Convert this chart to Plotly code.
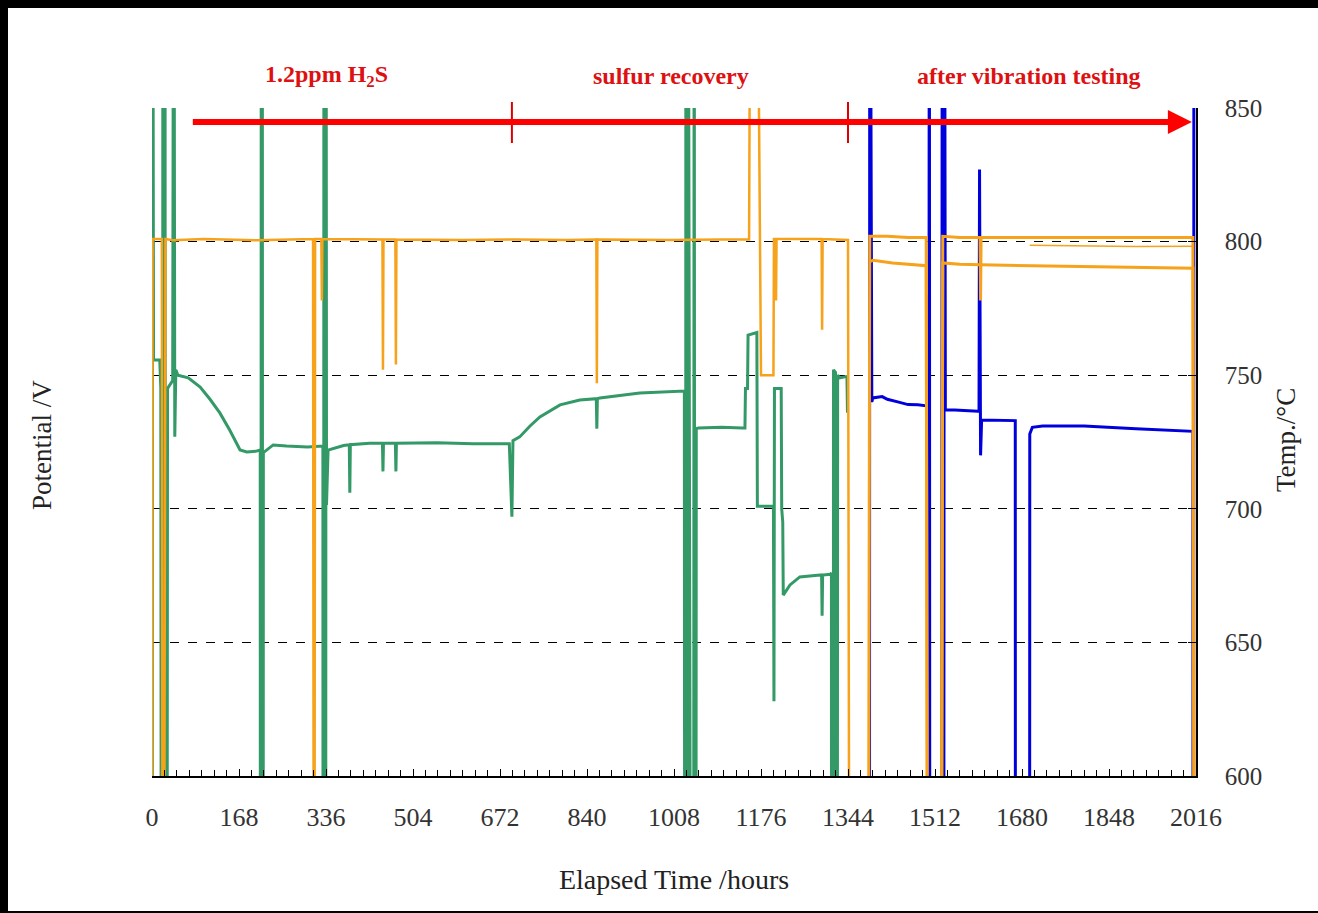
import plotly.graph_objects as go

# ---------------- data ----------------
# Cell potential, test part 1 (green), hours / V
pot1_h = [0, 1, 3, 15, 17, 20, 21, 23, 25, 27, 30, 40, 42, 44, 46, 50, 70, 93, 112, 131, 150, 170, 183, 200, 209,
          210, 211, 212, 213, 214, 215, 234, 260, 300, 330, 331, 332, 333, 334, 335, 336, 337, 340, 370, 381, 382, 383,
          420, 445, 446, 447, 470, 471, 472, 550, 620, 690, 695, 697, 710, 730, 749, 788, 826, 858, 859, 860, 865, 942,
          1019, 1028, 1030, 1031, 1033, 1035, 1045, 1047, 1049, 1051, 1055, 1100, 1140, 1145, 1146, 1150, 1151, 1168,
          1169, 1200, 1201, 1202, 1215, 1216, 1218, 1219, 1232, 1251, 1290, 1293, 1294, 1295, 1310, 1312, 1313, 1315,
          1316, 1320, 1322, 1324, 1328, 1340, 1342, 1343]
pot1_v = [0.0, 1.0, 0.7557, 0.7557, 0.745, 0.0, 1.0, 0.0, 1.0, 0.0, 0.745, 0.748, 1.0, 0.727, 0.752, 0.750, 0.749,
          0.7456, 0.741, 0.7359, 0.7295, 0.722, 0.7213, 0.7215, 0.722, 0.0, 1.0, 0.0, 1.0, 0.0, 0.721, 0.7239, 0.7235,
          0.7231, 0.7235, 0.0, 1.0, 0.0, 1.0, 0.0, 1.0, 0.7014, 0.722, 0.7237, 0.724, 0.706, 0.724, 0.7245, 0.7245,
          0.714, 0.7245, 0.7245, 0.714, 0.7245, 0.7247, 0.7243, 0.7243, 0.697, 0.7255, 0.7269, 0.731, 0.7344, 0.7389,
          0.7407, 0.7412, 0.730, 0.7412, 0.7415, 0.7433, 0.7441, 0.7441, 0.0, 1.0, 0.0, 1.0, 0.0, 1.0, 0.0, 0.730,
          0.7302, 0.7305, 0.7302, 0.7302, 0.745, 0.745, 0.765, 0.766, 0.701, 0.701, 0.628, 0.745, 0.745, 0.70, 0.695,
          0.6677, 0.6715, 0.6745, 0.6752, 0.6752, 0.66, 0.6752, 0.6755, 0.676, 0.0, 0.0, 0.752, 0.751, 0.0, 0.75,
          0.749, 0.7495, 0.749, 0.736]

# Cell potential, test part 2 after vibration testing (blue), hours / V
pot2_h = [1385, 1386, 1390, 1392, 1410, 1420, 1440, 1460, 1479, 1496, 1497, 1498, 1499, 1501, 1503,
          1524, 1526, 1528, 1530, 1532, 1550, 1595, 1597, 1598, 1600, 1602, 1640, 1667, 1668,
          1694, 1695, 1700, 1720, 1800, 1900, 1950, 2004, 2010, 2011, 2012]
pot2_v = [0.0, 1.0, 0.740, 0.7415, 0.742, 0.741, 0.740, 0.739, 0.7389, 0.7385, 0.78, 0.677, 0.0, 1.0, 0.0,
          0.0, 1.0, 0.0, 1.0, 0.737, 0.737, 0.7365, 0.7365, 0.827, 0.72, 0.7332, 0.7332, 0.733, 0.0,
          0.0, 0.728, 0.7305, 0.731, 0.731, 0.730, 0.7295, 0.729, 0.729, 0.0, 1.0]

# Furnace temperature, part 1 (orange), hours / degC
temp1_h = [0, 1, 10, 19, 20, 24, 26, 40, 100, 200, 311, 312, 314, 315, 327, 328, 329, 400, 445, 446, 447, 470, 471,
           472, 600, 700, 800, 858, 859, 860, 1000, 1100, 1153, 1154, 1172, 1176, 1200, 1201, 1204, 1205, 1206,
           1250, 1293, 1294, 1295, 1344, 1346]
temp1_t = [590, 801, 801, 801, 590, 590, 801, 800.5, 801, 800.5, 801, 590, 590, 801, 801, 778, 801, 800.8, 800.8,
           752, 800.8, 800.8, 754, 800.8, 800.6, 800.8, 800.6, 800.8, 747, 800.8, 800.6, 800.8, 800.8, 852, 852,
           750, 750, 801, 801, 778, 801, 801, 801, 767, 801, 800.6, 590]

# Furnace temperature, part 2 (two thermocouples), hours / degC
temp2a_h = [1384, 1386, 1420, 1460, 1495, 1497, 1525, 1527, 1560, 1599, 1600, 1601, 1650, 1700, 1800, 1900, 2010, 2012]
temp2a_t = [590, 802, 802, 801.5, 801.5, 590, 590, 802, 801.5, 801.5, 778, 801.5, 801.5, 801.5, 801.5, 801.5, 801.5, 590]
temp2b_h = [1386, 1392, 1430, 1495, 1497, 1525, 1527, 1560, 1600, 1700, 1800, 1900, 2010, 2012]
temp2b_t = [792.5, 793, 792, 791, 590, 590, 792, 791.5, 791.3, 791, 790.8, 790.5, 790, 590]
temp2c_h = [1695, 1800, 1900, 2010]
temp2c_t = [798.6, 798.4, 798.2, 798.3]

x_ticks = [0, 168, 336, 504, 672, 840, 1008, 1176, 1344, 1512, 1680, 1848, 2016]
temp_ticks = [600, 650, 700, 750, 800, 850]
pot_grid = [0.65, 0.70, 0.75, 0.80, 0.85]

phase_marks = [695, 1344]
arrow_start, arrow_end = 73, 2008
phase_labels = [("1.2ppm H<sub>2</sub>S", 337), ("sulfur recovery", 1003), ("after vibration testing", 1693)]

# ---------------- figure ----------------
GREEN = "#339966"
BLUE = "#0000DD"
ORANGE = "#F7A21B"
RED = "#FF0000"
SERIF = "Liberation Serif"

fig = go.Figure()
fig.add_trace(go.Scatter(x=temp1_h, y=temp1_t, yaxis="y2", mode="lines",
                         line=dict(color=ORANGE, width=2.5), showlegend=False))
fig.add_trace(go.Scatter(x=temp2a_h, y=temp2a_t, yaxis="y2", mode="lines",
                         line=dict(color=ORANGE, width=3), showlegend=False))
fig.add_trace(go.Scatter(x=temp2b_h, y=temp2b_t, yaxis="y2", mode="lines",
                         line=dict(color=ORANGE, width=3), showlegend=False))
fig.add_trace(go.Scatter(x=temp2c_h, y=temp2c_t, yaxis="y2", mode="lines",
                         line=dict(color=ORANGE, width=1.5), showlegend=False))
fig.add_trace(go.Scatter(x=pot1_h, y=pot1_v, mode="lines",
                         line=dict(color=GREEN, width=3), showlegend=False))
fig.add_trace(go.Scatter(x=pot2_h, y=pot2_v, mode="lines",
                         line=dict(color=BLUE, width=3), showlegend=False))

# black picture frame
W, H = 1318, 913
L, R, T, B = 152, 122, 108, 137
pw, ph = W - L - R, H - T - B
def px(x):
    return (x - L) / pw
def py(y):
    return (H - B - y) / ph

shapes = [dict(type="rect", xref="paper", yref="paper", x0=px(8), x1=px(W + 5), y0=py(H - 2), y1=py(8),
               fillcolor="white", line=dict(width=0), layer="below")]
for m in phase_marks:
    shapes.append(dict(type="line", xref="x", yref="paper", x0=m, x1=m, y0=py(102), y1=py(143),
                       line=dict(color="#DD0000", width=2)))

annotations = [
    dict(x=arrow_end, y=844.8, xref="x", yref="y2", ax=arrow_start, ay=844.8, axref="x", ayref="y2",
         showarrow=True, arrowhead=2, arrowsize=0.8, arrowwidth=6, arrowcolor=RED, text=" "),
    dict(text="Potential /V", x=px(42), y=py(445), xref="paper", yref="paper", showarrow=False,
         xanchor="center", yanchor="middle",
         textangle=-90, font=dict(family=SERIF, size=27, color="#222")),
    dict(text="Temp./°C", x=px(1286), y=py(440), xref="paper", yref="paper", showarrow=False,
         xanchor="center", yanchor="middle",
         textangle=-90, font=dict(family=SERIF, size=27, color="#222")),
]
for txt, xh in phase_labels:
    annotations.append(dict(text="<b>" + txt + "</b>", x=xh, y=py(76), xref="x", yref="paper",
                            xanchor="center", yanchor="middle",
                            showarrow=False, font=dict(family=SERIF, size=24, color="#DD1111")))

fig.update_layout(
    width=W, height=H,
    margin=dict(l=L, r=R, t=T, b=B, pad=0),
    paper_bgcolor="black", plot_bgcolor="white",
    shapes=shapes, annotations=annotations,
    xaxis=dict(range=[0, 2016], tickvals=x_ticks, ticktext=[str(v) for v in x_ticks],
               ticks="inside", ticklen=7, tickcolor="black", showgrid=False, zeroline=False,
               showline=True, linecolor="black", linewidth=1.5,
               minor=dict(dtick=24, tick0=0, ticks="inside", ticklen=6, tickcolor="black", showgrid=False),
               tickfont=dict(family=SERIF, size=26, color="#333"), ticklabelstandoff=17,
               title=dict(text="Elapsed Time /hours", font=dict(family=SERIF, size=28, color="#222"), standoff=38)),
    yaxis=dict(range=[0.60, 0.85], tickvals=pot_grid, showticklabels=False, ticks="",
               showgrid=True, gridcolor="black", griddash="dash", gridwidth=1,
               zeroline=False, showline=False),
    yaxis2=dict(range=[600, 850], overlaying="y", side="right", tickvals=temp_ticks,
                ticks="inside", ticklen=8, tickcolor="black", showgrid=False, zeroline=False,
                showline=True, linecolor="black", linewidth=1.5,
                tickfont=dict(family=SERIF, size=25, color="#333"), ticklabelstandoff=22),
)

fig.write_html("out.html", config={"displayModeBar": False},
               post_script="document.body.style.margin='0px';")
